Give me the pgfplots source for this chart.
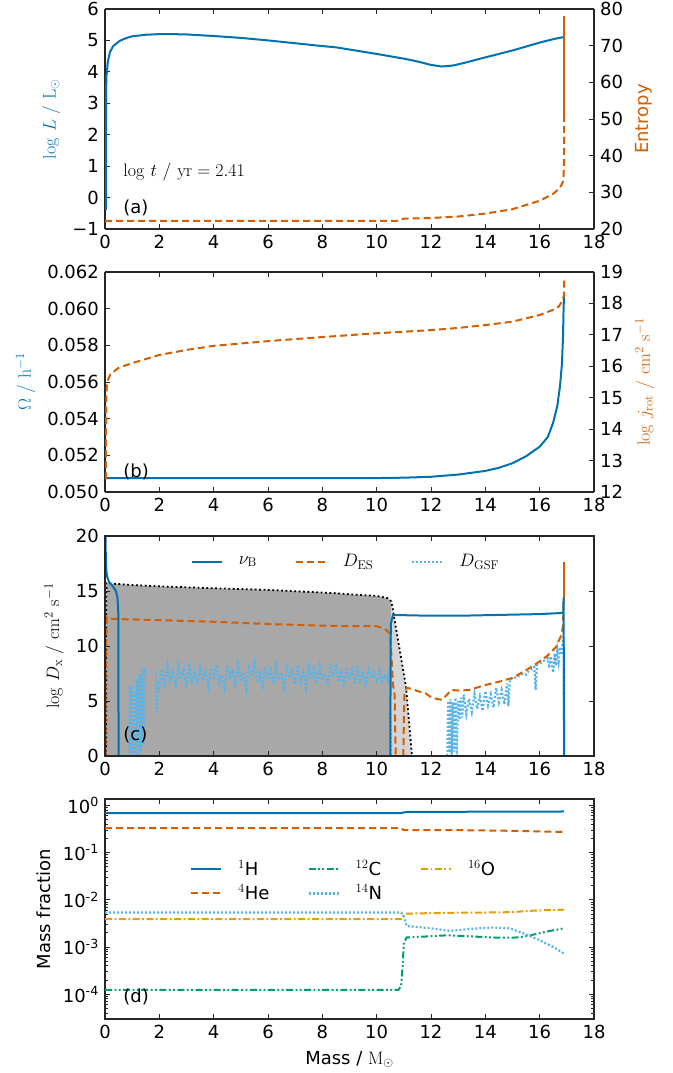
\RequirePackage{fix-cm}
\documentclass[border=0pt]{standalone}
\usepackage[no-math]{fontspec}
\setmainfont{DejaVu Sans}
\usepackage{pgfplots}
\pgfplotsset{compat=1.18}
\definecolor{cB}{HTML}{0072B2}
\definecolor{cV}{HTML}{D55E00}
\definecolor{cG}{HTML}{009E73}
\definecolor{cO}{HTML}{E69F00}
\definecolor{cS}{HTML}{56B4E9}
\newcommand{\LF}{\fontsize{18}{21}\selectfont}
\pgfplotsset{
  panel/.style={scale only axis, width=489pt, height=220pt, anchor=south west,
    xmin=0, xmax=18, xtick={0,2,...,18}, tick align=inside,
    major tick length=5pt, minor tick length=3pt,
    axis line style={line width=1.1pt, black!85},
    tick style={line width=0.9pt, black!85},
    scaled y ticks=false,
    /pgf/number format/assume math mode=true,
    unbounded coords=jump},
  lB/.style={color=cB, line width=2pt},
  lV/.style={color=cV, line width=2pt, dash pattern=on 7pt off 4pt},
  lS/.style={color=cS, line width=2.2pt, dash pattern=on 2pt off 2pt},
  lG/.style={color=cG, line width=2pt, dash pattern=on 7pt off 2.5pt on 1.8pt off 2.5pt on 1.8pt off 2.5pt},
  lO/.style={color=cO, line width=2pt, dash pattern=on 7pt off 2.5pt on 1.8pt off 2.5pt},
  legend image code/.code={\draw[#1] (0pt,0pt) -- (30pt,0pt);},
}
\begin{document}
\LF
\begin{tikzpicture}
\path[use as bounding box] (0,0) rectangle (672pt,1073pt);
% ---------------- panel (a)
\begin{axis}[panel, at={(105pt,844pt)}, axis y line*=left,
  ymin=-1, ymax=6, ytick={-1,0,...,6}, yticklabels={−1,0,1,2,3,4,5,6},
  ylabel={$\log\,L\ /\ \mathrm{L}_\odot$}, ylabel style={color=cB}]
\addplot[lB] coordinates {(0.03,-0.4)(0.035,2.0)(0.04,3.3)(0.05,3.85)(0.07,4.0)(0.1,4.3)(0.18,4.62)(0.3,4.82)(0.55,4.99)(0.8,5.08)(1.0,5.13)(1.5,5.18)(2,5.2)(2.5,5.2)(3,5.19)(4,5.14)(5,5.08)(6,5.0)(7,4.91)(8,4.82)(8.5,4.78)(9,4.71)(10,4.57)(11,4.42)(11.5,4.33)(12,4.22)(12.4,4.17)(12.8,4.2)(13.2,4.28)(14,4.46)(15,4.68)(16,4.93)(16.5,5.04)(16.9,5.11)};
\node[anchor=west] at (axis cs:0.45,0.8) {$\log\,t\ /\ \mathrm{yr}=2.41$};
\node[anchor=west] at (axis cs:0.45,-0.33) {(a)};
\end{axis}
\begin{axis}[panel, at={(105pt,844pt)}, axis x line=none, axis y line*=right,
  ymin=20, ymax=80, ytick={20,30,...,80},
  ylabel={Entropy}, ylabel style={color=cV}]
\addplot[lV] coordinates {(0,22.2)(10.8,22.2)(11.0,22.8)(12,23.0)(13,23.4)(14,24.2)(15,25.4)(16,27.7)(16.5,29.6)(16.75,31.2)(16.85,32.8)(16.88,34)(16.9,40)(16.9,50)};
\addplot[color=cV, line width=2pt] coordinates {(16.9,50)(16.9,78)};
\end{axis}
% ---------------- panel (b)
\begin{axis}[panel, at={(105pt,581pt)}, axis y line*=left,
  ymin=0.050, ymax=0.062, ytick={0.050,0.052,0.054,0.056,0.058,0.060,0.062},
  yticklabels={0.050,0.052,0.054,0.056,0.058,0.060,0.062},
  ylabel={$\Omega\ /\ \mathrm{h}^{-1}$}, ylabel style={color=cB}]
\addplot[lB] coordinates {(0,0.05075)(10,0.05076)(11,0.05078)(12,0.05083)(13,0.05095)(14,0.05115)(14.5,0.05132)(15,0.05157)(15.5,0.05195)(16,0.05247)(16.3,0.05300)(16.5,0.05380)(16.65,0.05470)(16.75,0.05580)(16.82,0.05700)(16.86,0.05850)(16.88,0.0600)(16.9,0.0608)};
\node[anchor=west] at (axis cs:0.45,0.05111) {(b)};
\end{axis}
\begin{axis}[panel, at={(105pt,581pt)}, axis x line=none, axis y line*=right,
  ymin=12, ymax=19, ytick={12,...,19},
  ylabel={$\log\,j_\mathrm{rot}\ /\ \mathrm{cm}^2\ \mathrm{s}^{-1}$}, ylabel style={color=cV}]
\addplot[lV] coordinates {(0.03,12.4)(0.04,14.5)(0.06,15.3)(0.1,15.55)(0.2,15.75)(0.5,15.95)(1,16.1)(2,16.36)(3,16.52)(4,16.65)(6,16.8)(8,16.93)(10,17.05)(12,17.15)(13,17.22)(14,17.31)(15,17.42)(16,17.63)(16.5,17.8)(16.7,17.9)(16.85,18.1)(16.9,18.3)(16.9,18.8)};
\end{axis}
% ---------------- panel (c)
\begin{axis}[panel, at={(105pt,317pt)}, axis on top,
  ymin=0, ymax=20, ytick={0,5,...,20},
  ylabel={$\log\,D_\mathrm{x}\ /\ \mathrm{cm}^2\ \mathrm{s}^{-1}$},
  legend columns=3,
  legend style={at={(0.493,0.883)}, anchor=center, draw=none, fill=none,
    cells={anchor=west},
    /tikz/every odd column/.append style={column sep=14pt},
    /tikz/every even column/.append style={column sep=36pt}}]
\addlegendimage{lB}\addlegendentry{\LF$\nu_\mathrm{B}$}
\addlegendimage{lV}\addlegendentry{\LF$D_\mathrm{ES}$}
\addlegendimage{lS}\addlegendentry{\LF$D_\mathrm{GSF}$}
\addplot[fill=black!34, draw=none, forget plot] coordinates {(0.04,0)(0.05,15.7)(1,15.55)(2,15.42)(4,15.25)(6,15.1)(8.5,14.8)(9,14.7)(10,14.55)(10.4,14.35)(10.52,14.1)(10.52,0)} \closedcycle;
\addplot[fill=black!17, draw=none, forget plot] coordinates {(10.52,0)(10.52,14.1)(10.58,13.6)(10.65,12.5)(11.08,6.3)(11.3,0)} \closedcycle;
\addplot[black, line width=1.8pt, dash pattern=on 1.8pt off 2.6pt, forget plot] coordinates {(0.04,0)(0.05,15.7)(1,15.55)(2,15.42)(4,15.25)(6,15.1)(8.5,14.8)(9,14.7)(10,14.55)(10.4,14.35)(10.52,14.1)(10.58,13.6)(10.65,12.5)(11.08,6.3)(11.3,0)};
\addplot[lS, forget plot] coordinates {(0.9,0)(0.92,6.4)(0.95,0)(1.0,6.2)(1.03,0)(1.08,5.8)(1.12,0)(1.18,7.0)(1.22,0)(1.28,7.4)(1.32,0.5)(1.38,7.8)(1.42,1.0)(1.47,8.0)(1.52,7.3)(1.55,nan)(1.88,7.7)(1.9,4.0)(1.95,6.8)
(2.0,6.3)(2.1,7.9)(2.2,6.6)(2.3,8.3)(2.4,6.9)(2.5,7.6)(2.6,6.4)(2.7,8.2)(2.8,7.0)(2.9,7.8)
(3.0,6.2)(3.1,8.4)(3.2,6.8)(3.3,7.5)(3.4,6.5)(3.5,8.1)(3.6,6.9)(3.7,7.7)(3.8,6.3)(3.9,8.0)
(4.0,7.1)(4.1,8.3)(4.2,6.6)(4.3,7.4)(4.4,6.2)(4.5,8.2)(4.6,7.0)(4.7,7.9)(4.8,6.5)(4.9,8.3)
(5.0,6.8)(5.1,7.6)(5.2,6.1)(5.3,8.0)(5.4,7.2)(5.5,8.4)(5.6,6.7)(5.7,7.5)(5.8,6.4)(5.9,8.1)
(6.0,7.0)(6.1,7.8)(6.2,6.6)(6.3,8.2)(6.4,6.9)(6.5,7.4)(6.6,6.3)(6.7,8.0)(6.8,7.1)(6.9,7.7)
(7.0,6.5)(7.1,8.3)(7.2,6.8)(7.3,7.6)(7.4,6.2)(7.5,8.1)(7.6,7.0)(7.7,7.9)(7.8,6.6)(7.9,8.2)
(8.0,6.9)(8.1,7.5)(8.2,6.4)(8.3,8.0)(8.4,7.2)(8.5,8.4)(8.6,6.7)(8.7,7.6)(8.8,6.3)(8.9,8.1)
(9.0,7.0)(9.1,7.8)(9.2,6.5)(9.3,8.2)(9.4,6.9)(9.5,7.5)(9.6,6.4)(9.7,7.9)(9.8,7.1)(9.9,7.6)
(10.0,6.6)(10.1,7.8)(10.2,6.8)(10.3,7.4)(10.4,6.9)(10.45,7.5)(10.5,5.0)(10.53,0)(10.55,nan)
(12.6,0)(12.63,5.0)(12.67,0.3)(12.72,5.2)(12.76,0)(12.81,4.9)(12.85,0.4)(12.9,5.3)(12.95,0)(13.0,5.0)(13.05,3.3)(13.1,5.3)(13.15,3.5)(13.2,5.6)(13.3,3.8)(13.4,5.2)(13.5,4.0)(13.6,5.7)(13.7,4.3)(13.8,5.4)(13.9,4.1)(14.0,5.9)(14.1,4.6)(14.2,5.6)(14.3,4.4)(14.4,6.2)(14.5,4.9)(14.6,6.0)(14.7,4.7)(14.8,6.6)(14.85,4.5)(14.9,7.0)(15.0,7.0)(15.2,7.25)(15.4,7.5)(15.5,7.4)(15.6,7.75)(15.7,7.9)(15.8,8.1)(15.85,6.0)(15.9,8.25)(16.0,8.4)(16.1,8.55)(16.2,8.75)(16.3,8.9)(16.35,8.0)(16.4,9.05)(16.5,7.6)(16.55,9.3)(16.6,8.2)(16.65,9.6)(16.7,8.6)(16.75,9.9)(16.8,9.2)(16.85,10.4)(16.88,10.8)(16.9,0)};
\addplot[lV, forget plot] coordinates {(0.02,0)(0.03,10)(0.06,12.6)(0.1,12.5)(0.5,12.45)(2,12.35)(4,12.2)(6,12.0)(8,11.85)(9,11.8)(10,11.8)(10.3,11.55)(10.5,11.1)(10.6,6.5)(10.66,5.6)(10.7,0)(10.8,nan)(10.98,0)(11.02,5.5)(11.1,6.2)(11.3,6.1)(11.5,5.9)(11.8,5.7)(12.0,5.35)(12.2,5.2)(12.4,5.1)(12.6,5.6)(12.75,6.0)(13.0,5.95)(13.4,6.0)(14.0,6.45)(14.5,6.75)(15.0,7.1)(15.6,7.95)(16.0,8.6)(16.3,9.15)(16.6,9.9)(16.8,11.0)(16.86,11.8)(16.88,14)};
\addplot[color=cV, line width=2pt, forget plot] coordinates {(16.9,14)(16.9,17.6)};
\addplot[lB, forget plot] coordinates {(0.02,20)(0.03,18)(0.05,16.8)(0.08,16.3)(0.15,15.8)(0.3,15.4)(0.4,15.0)(0.46,14.4)(0.49,13)(0.5,0)(1,nan)(10.5,0)(10.52,12.0)(10.6,12.8)(11,12.8)(12,12.75)(13,12.75)(14,12.8)(15,12.85)(16,12.9)(16.8,13.0)(16.87,13.1)(16.88,14.4)(16.9,0)};
\node[anchor=west] at (axis cs:0.45,1.9) {(c)};
\end{axis}
% ---------------- panel (d)
\begin{axis}[panel, at={(105pt,54pt)}, ymode=log, ymin=3e-5, ymax=1.37,
  ytick={1e-4,1e-3,1e-2,1e-1,1},
  yticklabels={10\textsuperscript{-4},10\textsuperscript{-3},10\textsuperscript{-2},10\textsuperscript{-1},10\textsuperscript{0}},
  minor ytick={4e-5,5e-5,6e-5,7e-5,8e-5,9e-5,2e-4,3e-4,4e-4,5e-4,6e-4,7e-4,8e-4,9e-4,2e-3,3e-3,4e-3,5e-3,6e-3,7e-3,8e-3,9e-3,2e-2,3e-2,4e-2,5e-2,6e-2,7e-2,8e-2,9e-2,0.2,0.3,0.4,0.5,0.6,0.7,0.8,0.9},
  ylabel={Mass fraction}, xlabel={Mass / $\mathrm{M}_\odot$},
  legend columns=3,
  legend style={at={(0.488,0.626)}, anchor=center, draw=none, fill=none,
    cells={anchor=west}, row sep=3pt,
    /tikz/every odd column/.append style={column sep=14pt},
    /tikz/every even column/.append style={column sep=36pt}}]
\addplot[lB] coordinates {(0,0.69)(10.9,0.69)(11.1,0.73)(16.9,0.745)};
\addlegendentry{\LF$^{1}$H}
\addplot[lG] coordinates {(0,1.24e-4)(10.8,1.24e-4)(10.9,1.5e-4)(10.95,3.7e-4)(11.0,1.2e-3)(11.1,1.6e-3)(12,1.7e-3)(12.6,1.78e-3)(13.5,1.68e-3)(14.5,1.58e-3)(15.2,1.6e-3)(15.7,1.8e-3)(16.2,2.1e-3)(16.9,2.5e-3)};
\addlegendentry{\LF$^{12}$C}
\addplot[lO] coordinates {(0,3.9e-3)(10.9,3.9e-3)(11.0,4.8e-3)(11.1,5.1e-3)(12,5.25e-3)(13,5.35e-3)(14,5.4e-3)(15,5.5e-3)(15.5,5.8e-3)(16,6.0e-3)(16.9,6.2e-3)};
\addlegendentry{\LF$^{16}$O}
\addplot[lV] coordinates {(0,0.33)(10.9,0.33)(11.0,0.30)(13,0.30)(15,0.29)(16.9,0.275)};
\addlegendentry{\LF$^{4}$He\hspace{8pt}}
\addplot[lS] coordinates {(0,5.4e-3)(10.9,5.4e-3)(11.0,4.5e-3)(11.1,2.8e-3)(12,2.5e-3)(12.7,2.2e-3)(13.5,2.45e-3)(14.3,2.6e-3)(14.9,2.5e-3)(15.5,1.85e-3)(16.0,1.4e-3)(16.5,1.0e-3)(16.9,7.3e-4)};
\addlegendentry{\LF$^{14}$N}
\node[anchor=west] at (axis cs:0.45,8.7e-5) {(d)};
\end{axis}
\end{tikzpicture}
\end{document}
